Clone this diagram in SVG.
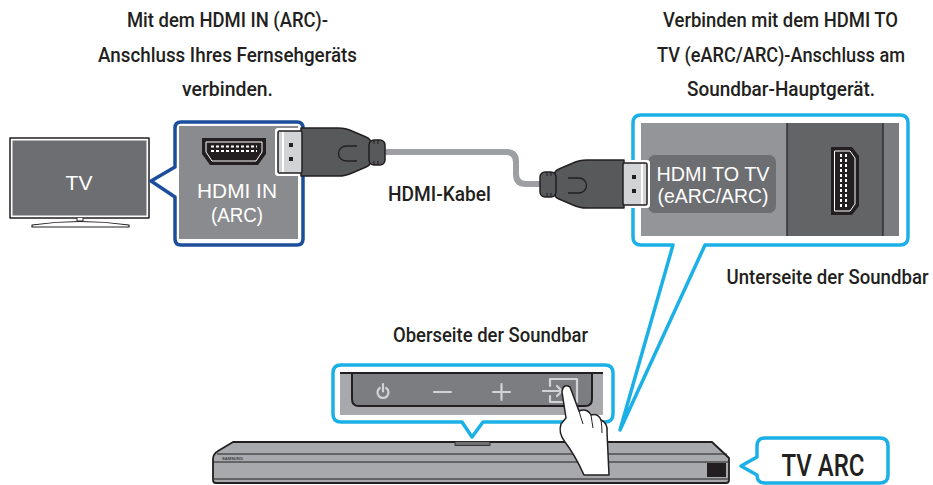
<svg xmlns="http://www.w3.org/2000/svg" xmlns:xlink="http://www.w3.org/1999/xlink" width="933" height="485" viewBox="0 0 933 485">
  <style>
    .lbl { font-family: Roboto, "Noto Sans", sans-serif; font-weight: 500; font-size: 21px; fill: #231f20; text-anchor: middle; }
    .big { font-size: 32px; }
    .port-lbl { font-family: "Liberation Sans", Arial, sans-serif; font-size: 20px; fill: #ffffff; text-anchor: middle; }
    .port-lg { font-size: 21px; }
    .ink { stroke: #231f20; stroke-width: 1.5; stroke-linejoin: round; }
    .cyan { fill: #ffffff; stroke: #1bb0e6; stroke-width: 3.5; stroke-linejoin: round; }
    .icon { fill: none; stroke: #d1d3d4; stroke-width: 2.2; stroke-linecap: round; stroke-linejoin: round; }
  </style>
  <defs>
    <!-- HDMI plug, drawn facing left (tip on the left) -->
    <g id="plug">
      <rect x="275" y="128" width="30" height="48" rx="3" fill="#ffffff"/>
      <path d="M301,128 H338 Q346,128 352,131 L366,137 Q371,139 371,144 V160 Q371,165 366,167 L352,173 Q346,176 338,176 H301 Z" fill="#58595b" class="ink"/>
      <rect x="278" y="131" width="24" height="42" rx="1.5" fill="#d1d3d4" class="ink"/>
      <line x1="283" y1="132" x2="283" y2="172" stroke="#ffffff" stroke-width="2"/>
      <rect x="289" y="143" width="4" height="4" fill="#231f20"/>
      <rect x="289" y="157" width="4" height="4" fill="#231f20"/>
      <path d="M357,146 H346 A7.5,7.5 0 0 0 346,161 H357" fill="none" stroke="#231f20" stroke-width="1.3"/>
      <rect x="369" y="140" width="16" height="25" rx="5" fill="#58595b" class="ink"/>
      <path d="M374,140 V144 M378,140 V144 M374,161 V165 M378,161 V165" stroke="#231f20" stroke-width="1"/>
    </g>
  </defs>

  <rect width="933" height="485" fill="#ffffff"/>

  <!-- Television -->
  <g id="tv">
    <rect x="10" y="138" width="139" height="80" fill="#ffffff" class="ink"/>
    <rect x="12.5" y="140.5" width="134" height="75" fill="#6d6e71"/>
    <path d="M77,218 V221 H83 V218" fill="#ffffff" stroke="#231f20" stroke-width="1"/>
    <path d="M32,225 Q80,218 129,225 V227 H32 Z" fill="#ffffff" stroke="#231f20" stroke-width="1.2" stroke-linejoin="round"/>
    <text x="79" y="190" font-family="'Liberation Sans', Arial, sans-serif" font-size="21" fill="#ffffff" text-anchor="middle">TV</text>
  </g>

  <!-- TV side: HDMI IN (ARC) port callout -->
  <g id="hdmi-in">
    <path d="M181,122 H297 Q303,122 303,128 V239 Q303,245 297,245 H181 Q175,245 175,239 V197 L151,181 L175,167 V128 Q175,122 181,122 Z" fill="#ffffff" stroke="#1d4e9b" stroke-width="3.5" stroke-linejoin="round"/>
    <rect x="179" y="126" width="119" height="113" fill="#8a8b8e"/>
    <path d="M202,138 H266 V154 L258,165 H210 L202,154 Z" fill="#231f20"/>
    <path d="M206,142 H262 V152 L256,161 H212 L206,152 Z" fill="none" stroke="#ffffff" stroke-width="1"/>
    <path d="M211,146.5 H257 M211,151 H257" stroke="#ffffff" stroke-width="2" stroke-dasharray="3 2"/>
    <text x="237" y="198" class="port-lbl port-lg" textLength="80" lengthAdjust="spacingAndGlyphs">HDMI IN</text>
    <text x="237" y="222" class="port-lbl port-lg" textLength="52" lengthAdjust="spacingAndGlyphs">(ARC)</text>
  </g>

  <!-- Soundbar underside: HDMI TO TV (eARC/ARC) port callout -->
  <g id="hdmi-out">
    <path d="M673,245 H641 Q633,245 633,237 V123 Q633,115 641,115 H900 Q908,115 908,123 V237 Q908,245 900,245 H705 L620,430 Z" class="cyan"/>
    <rect x="641" y="123" width="146" height="113" fill="#939598"/>
    <rect x="787" y="123" width="96" height="113" fill="#636466"/>
    <rect x="883" y="123" width="16" height="113" fill="#7b7c7f"/>
    <path d="M787,123 V236 M883,123 V236" stroke="#231f20" stroke-width="1.2"/>
    <rect x="648" y="155" width="128" height="58" rx="7" fill="#6d6e71"/>
    <text x="713" y="181" class="port-lbl" textLength="113" lengthAdjust="spacingAndGlyphs">HDMI TO TV</text>
    <text x="713" y="203" class="port-lbl" textLength="111" lengthAdjust="spacingAndGlyphs">(eARC/ARC)</text>
    <path d="M831,147 H852 L859,156 V206 L852,215 H831 Z" fill="#231f20"/>
    <path d="M834.5,151 H850 L855,158 V204 L850,211 H834.5 Z" fill="none" stroke="#ffffff" stroke-width="1"/>
    <path d="M841,154 V209 M846,154 V209" stroke="#ffffff" stroke-width="2" stroke-dasharray="3 2"/>
  </g>

  <!-- Soundbar top: button panel callout -->
  <g id="top-panel">
    <path d="M341,365 H605 Q613,365 613,373 V414 Q613,422 605,422 H483 L472,437 L462,422 H341 Q333,422 333,414 V373 Q333,365 341,365 Z" class="cyan"/>
    <rect x="340" y="372" width="263" height="43" fill="#a7a9ac"/>
    <path d="M352,373 V399 Q352,406 359,406 H585 Q592,406 592,399 V373" fill="#7c7d80" stroke="#231f20" stroke-width="2"/>
    <line x1="340" y1="373" x2="603" y2="373" stroke="#231f20" stroke-width="2"/>
    <path d="M379.8,388 A5.5,5.5 0 1 0 386.2,388 M383,384 V391.5" class="icon"/>
    <path d="M434,392 H451" class="icon"/>
    <path d="M493,392 H510 M501.5,384 V400" class="icon"/>
    <path d="M550,386 V379 H577 V402 H550 V396 M543,391 H562 M557,386 L562,391 L557,396" class="icon"/>
  </g>

  <!-- Soundbar body -->
  <g id="soundbar">
    <path d="M233,442 H712 L729,458 V480 Q729,483 726,483 H216 Q213,483 213,480 V459 Q213,454 218,451 Z" fill="#a7a9ac" stroke="#231f20" stroke-width="1.8" stroke-linejoin="round"/>
    <path d="M217,454 H727 M213.5,462 H728.5 M214,479 H728" stroke="#231f20" stroke-width="1.2"/>
    <rect x="455" y="441.5" width="35" height="4" fill="#6d6e71" stroke="#231f20" stroke-width="0.8"/>
    <rect x="707" y="463" width="19" height="14" fill="#231f20"/>
    <text x="222" y="459.5" font-family="'Liberation Sans', Arial, sans-serif" font-size="4" font-weight="bold" fill="#414042" textLength="21" lengthAdjust="spacingAndGlyphs">SAMSUNG</text>
  </g>

  <!-- Finger pressing the input button -->
  <g id="hand">
    <path d="M562,392 Q563,383 570,387 L579,411 Q587,408 591,415 Q598,413 601,420 Q608,423 607,432 L609,475 H584 Q575,455 565,442 Q558,433 561,424 L566,418 Z" fill="#ffffff" class="ink"/>
    <path d="M591,415 Q592,422 593,428 M601,420 Q602,427 602,433 M579,411 Q581,418 583,424" fill="none" stroke="#231f20" stroke-width="1"/>
  </g>

  <!-- TV ARC display callout -->
  <g id="tv-arc">
    <path d="M765,438 H880 Q888,438 888,446 V475 Q888,483 880,483 H765 Q757,483 757,475 V475 L741,466 L757,457 V446 Q757,438 765,438 Z" class="cyan"/>
    <text x="823" y="476" class="lbl big" textLength="83" lengthAdjust="spacingAndGlyphs">TV ARC</text>
  </g>

  <!-- HDMI cable between the TV and the soundbar -->
  <g id="connectors">
    <path d="M384,152 H506 Q516,152 516,162 V174 Q516,184 526,184 H542" fill="none" stroke="#9d9fa2" stroke-width="6"/>
    <use xlink:href="#plug"/>
    <use xlink:href="#plug" transform="translate(925,32) scale(-1,1)"/>
  </g>

  <!-- Captions (condensed horizontally to the narrow face of the original lettering) -->
  <g id="labels">
    <text x="227.5" y="27" class="lbl" textLength="201" lengthAdjust="spacingAndGlyphs">Mit dem HDMI IN (ARC)-</text>
    <text x="227.5" y="62" class="lbl" textLength="259" lengthAdjust="spacingAndGlyphs">Anschluss Ihres Fernsehgeräts</text>
    <text x="227.5" y="96" class="lbl" textLength="91" lengthAdjust="spacingAndGlyphs">verbinden.</text>
    <text x="780.5" y="27" class="lbl" textLength="235" lengthAdjust="spacingAndGlyphs">Verbinden mit dem HDMI TO</text>
    <text transform="translate(781,62) scale(0.85,1)" x="0" y="0" class="lbl" textLength="291.8" lengthAdjust="spacingAndGlyphs">TV (eARC/ARC)-Anschluss am</text>
    <text x="781" y="96" class="lbl" textLength="188" lengthAdjust="spacingAndGlyphs">Soundbar-Hauptgerät.</text>
    <text x="439.5" y="201" class="lbl" textLength="103" lengthAdjust="spacingAndGlyphs">HDMI-Kabel</text>
    <text transform="translate(827.5,284) scale(0.85,1)" x="0" y="0" class="lbl" textLength="237.6" lengthAdjust="spacingAndGlyphs">Unterseite der Soundbar</text>
    <text x="490.5" y="342" class="lbl" textLength="195" lengthAdjust="spacingAndGlyphs">Oberseite der Soundbar</text>
  </g>
</svg>
